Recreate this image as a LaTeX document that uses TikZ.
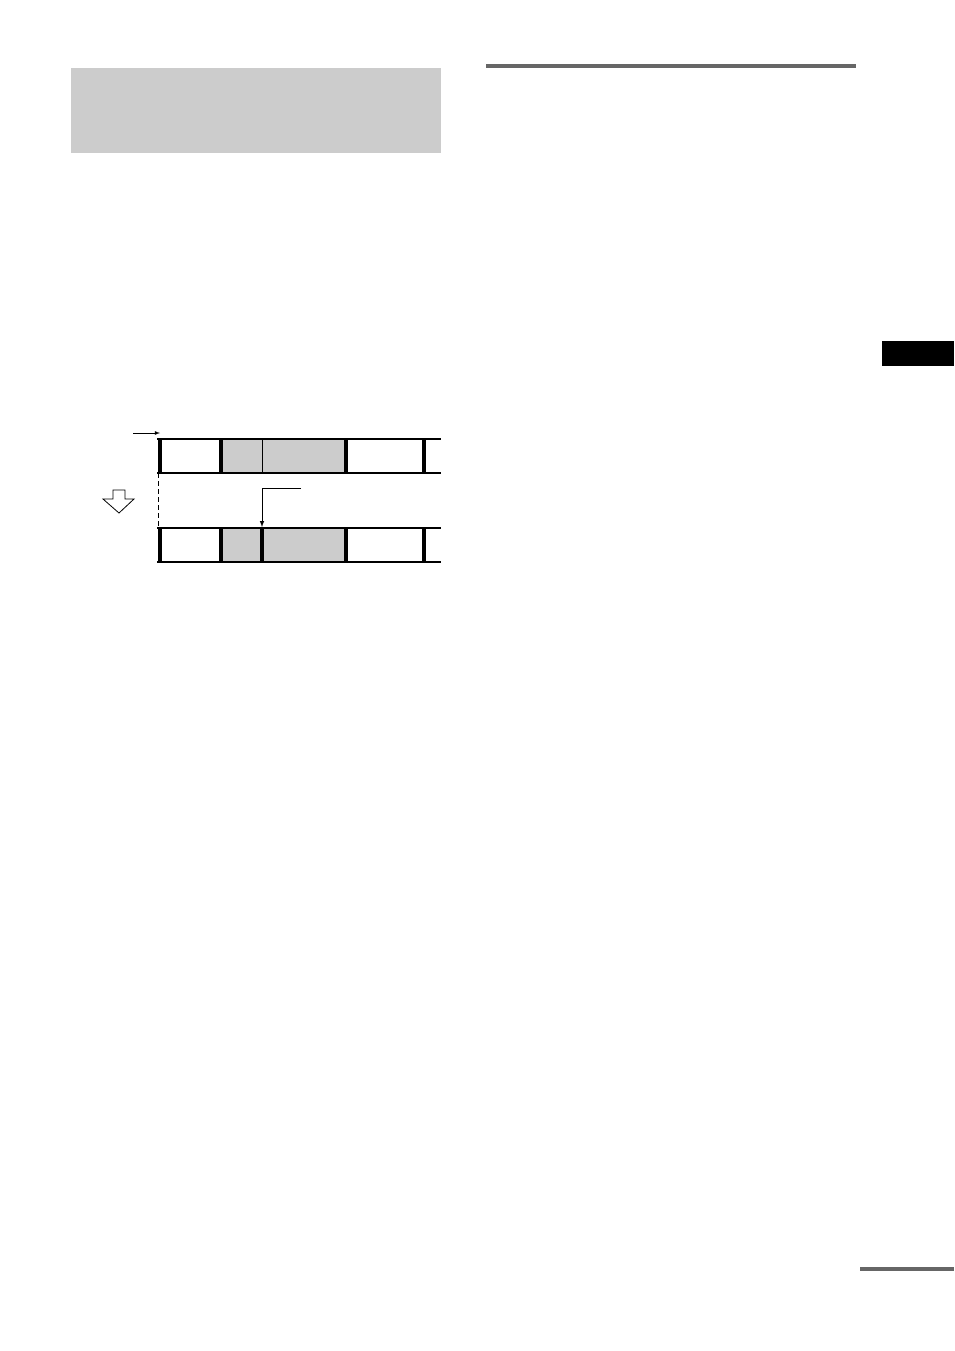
\documentclass[tikz,border=0pt]{standalone}
\usepackage{tikz}
\definecolor{panel}{rgb}{0.8,0.8,0.8}
\definecolor{rule}{rgb}{0.4,0.4,0.4}
\tikzset{
  bar/.style={line width=4pt},
  band/.style={line width=1.2pt}
}
\begin{document}
\begin{tikzpicture}[x=1pt,y=-1pt]
			\useasboundingbox[fill=white] (0,0) rectangle (954,1351);
			%Cabecalho
			\fill[panel] (71,68) rectangle (441,153);
			\fill[rule] (486,64) rectangle (856,68);
			\fill[black] (882,341) rectangle (954,366);
			\fill[rule] (860,1267) rectangle (954,1271);

			%Faixa superior
			\fill[panel] (221,439) rectangle (346,473);
			\draw[band] (157,439) -- (441,439);
			\draw[band] (157,473) -- (441,473);
			\foreach \x in {159.5,221,346,424} \draw[bar] (\x,439) -- (\x,473);
			\draw[line width=0.8pt] (262,439) -- (262,473);
			\draw[-latex, line width=0.8pt] (133,433) -- (160,433);

			%Faixa inferior
			\fill[panel] (221,528) rectangle (346,562);
			\draw[band] (157,528) -- (441,528);
			\draw[band] (157,562) -- (441,562);
			\foreach \x in {159.5,221,262,346,424} \draw[bar] (\x,528) -- (\x,562);

			%Ligacoes
			\draw[dash pattern=on 5pt off 3pt, line width=0.8pt] (158,473) -- (158,528);
			\coordinate (m) at (301,488);
			\coordinate (p) at (262,527);
			\draw[-latex, line width=1pt] (m) -| (p);
			\draw[line width=0.8pt] (113,490) -- (125,490) -- (125,499) -- (134,499) -- (119,513) -- (103,499) -- (113,499) -- cycle;
		\end{tikzpicture}
\end{document}
